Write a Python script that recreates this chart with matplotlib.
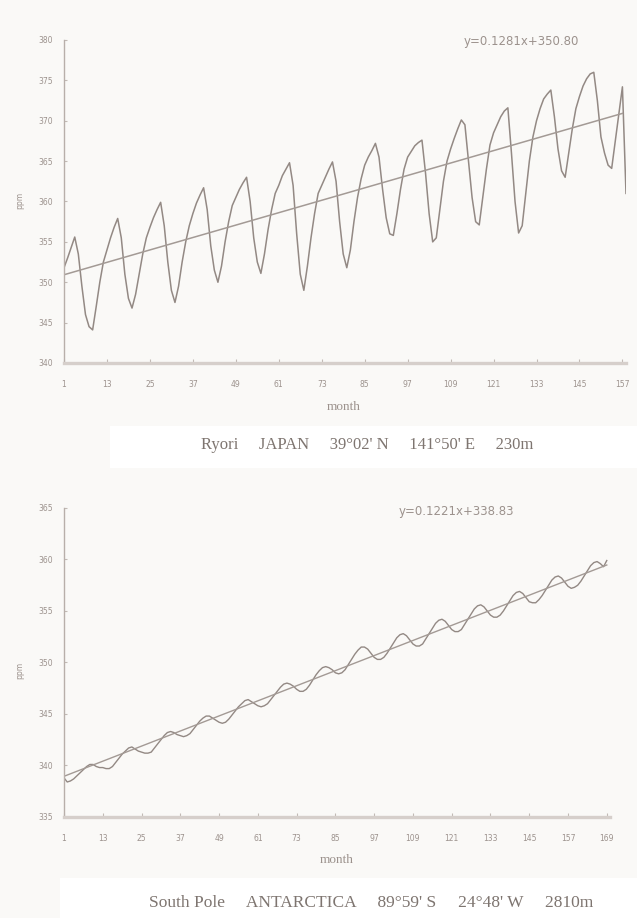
import numpy as np
import matplotlib
matplotlib.use("Agg")
import matplotlib.pyplot as plt
from matplotlib.patches import Rectangle

# ---------------- data ----------------
# Ryori, Japan: monthly CO2 (ppm), months 1..158
ryori_ppm = [
    351.8, 353.0, 354.3, 355.6, 353.5, 349.5, 346.0, 344.5, 344.1, 347.0, 350.0, 352.5,
    354.0, 355.5, 356.8, 357.9, 355.5, 351.0, 348.0, 346.8, 348.5, 351.0, 353.5, 355.5,
    356.8, 358.0, 359.0, 359.9, 357.0, 352.5, 349.0, 347.5, 349.5, 352.5, 355.0, 357.0,
    358.5, 359.8, 360.8, 361.7, 359.0, 354.5, 351.5, 350.0, 352.0, 355.0, 357.5, 359.5,
    360.5, 361.5, 362.3, 363.0, 360.0, 355.5, 352.5, 351.1, 353.5, 356.5, 359.0, 361.0,
    362.0, 363.2, 364.0, 364.8, 362.0, 356.0, 351.0, 349.0, 352.0, 355.5, 358.5, 361.0,
    362.0, 363.0, 364.0, 364.9, 362.5, 357.5, 353.5, 351.8, 354.0, 357.5, 360.5, 362.8,
    364.5, 365.5, 366.3, 367.2, 365.5, 361.5, 358.0, 356.0, 355.8, 358.5, 361.5, 364.0,
    365.5, 366.2, 366.9, 367.3, 367.6, 363.5, 358.5, 355.0, 355.5, 359.0, 362.5, 365.0,
    366.5, 367.8, 369.0, 370.1, 369.5, 365.0, 360.5, 357.5, 357.1, 360.5, 364.0, 367.0,
    368.5, 369.5, 370.5, 371.2, 371.6, 366.0, 360.0, 356.1, 357.0, 361.0, 365.0, 368.0,
    370.0, 371.5, 372.7, 373.3, 373.8, 370.5, 366.5, 363.8, 363.0, 366.0, 369.0, 371.5,
    373.0, 374.3, 375.2, 375.8, 376.0, 372.5, 368.0, 366.0, 364.5, 364.1, 367.5, 371.0,
    374.2, 361.0,
]
ryori_slope, ryori_intercept = 0.1281, 350.80
ryori_eq = "y=0.1281x+350.80"
ryori_xticks = [1, 13, 25, 37, 49, 61, 73, 85, 97, 109, 121, 133, 145, 157]
ryori_yticks = [340, 345, 350, 355, 360, 365, 370, 375, 380]
ryori_caption = "Ryori     JAPAN     39°02' N     141°50' E     230m"

# South Pole, Antarctica: monthly CO2 (ppm), months 1..169
spo_ppm = [
    338.8, 338.4, 338.5, 338.7, 339.0, 339.3, 339.6, 339.9, 340.1, 340.1, 339.9, 339.8,
    339.8, 339.7, 339.7, 339.9, 340.3, 340.7, 341.1, 341.4, 341.7, 341.8, 341.6, 341.4,
    341.3, 341.2, 341.2, 341.3, 341.7, 342.1, 342.5, 342.9, 343.2, 343.3, 343.2, 343.0,
    342.9, 342.8, 342.9, 343.1, 343.5, 343.9, 344.3, 344.6, 344.8, 344.8, 344.6, 344.4,
    344.2, 344.1, 344.2, 344.5, 344.9, 345.3, 345.7, 346.0, 346.3, 346.4, 346.2, 346.0,
    345.8, 345.7, 345.8, 346.0, 346.4, 346.8, 347.2, 347.6, 347.9, 348.0, 347.9, 347.7,
    347.4, 347.2, 347.2, 347.4, 347.8, 348.3, 348.8, 349.2, 349.5, 349.6, 349.5, 349.3,
    349.0, 348.9, 349.0, 349.3, 349.8, 350.3, 350.8, 351.2, 351.5, 351.5, 351.3, 350.9,
    350.5, 350.3, 350.3, 350.5, 350.9, 351.4, 351.9, 352.4, 352.7, 352.8, 352.6, 352.2,
    351.8, 351.6, 351.6, 351.8, 352.3, 352.8, 353.3, 353.8, 354.1, 354.2, 354.0, 353.6,
    353.2, 353.0, 353.0, 353.2, 353.7, 354.2, 354.7, 355.2, 355.5, 355.6, 355.4, 355.0,
    354.6, 354.4, 354.4, 354.6, 355.0, 355.5, 356.0, 356.5, 356.8, 356.9, 356.7, 356.3,
    355.9, 355.8, 355.8, 356.1, 356.5, 357.0, 357.5, 358.0, 358.3, 358.4, 358.2, 357.8,
    357.4, 357.2, 357.3, 357.5, 357.9, 358.4, 358.9, 359.4, 359.7, 359.8, 359.6, 359.3,
    359.9,
]
spo_slope, spo_intercept = 0.1221, 338.83
spo_eq = "y=0.1221x+338.83"
spo_xticks = [1, 13, 25, 37, 49, 61, 73, 85, 97, 109, 121, 133, 145, 157, 169]
spo_yticks = [335, 340, 345, 350, 355, 360, 365]
spo_caption = "South Pole     ANTARCTICA     89°59' S     24°48' W     2810m"

xlabel = "month"
ylabel = "ppm"

# ---------------- styling ----------------
W, H = 637, 918
paper = "#faf9f7"
line_c = "#938984"
trend_c = "#a39a95"
tick_c = "#9c928d"
text_c = "#7e7570"
serif = ["Liberation Serif", "DejaVu Serif"]

fig = plt.figure(figsize=(W / 100, H / 100), dpi=100, facecolor=paper)

# white paper strips behind captions (as in the scan)
fig.patches.append(Rectangle((110 / W, 1 - 468 / H), 1 - 110 / W, 42 / H,
                             transform=fig.transFigure, facecolor="white",
                             edgecolor="none", zorder=0))
fig.patches.append(Rectangle((60 / W, 0), 1 - 60 / W, 40 / H,
                             transform=fig.transFigure, facecolor="white",
                             edgecolor="none", zorder=0))


def px_axes(l, t, r, b):
    return fig.add_axes([l / W, 1 - b / H, (r - l) / W, (b - t) / H])


def style(ax, xticks, yticks, xmax, ymin, ymax):
    ax.set_facecolor("none")
    ax.set_xlim(1, xmax)
    ax.set_ylim(ymin, ymax)
    for s in ("top", "right"):
        ax.spines[s].set_visible(False)
    ax.spines["left"].set_color("#b8afaa")
    ax.spines["left"].set_linewidth(1.0)
    ax.spines["bottom"].set_color("#d6cfcb")
    ax.spines["bottom"].set_linewidth(2.4)
    ax.set_xticks(xticks)
    ax.set_xticklabels([str(v) for v in xticks])
    ax.set_yticks(yticks)
    ax.set_yticklabels([str(v) for v in yticks])
    ax.tick_params(axis="x", direction="in", length=3, width=0.8, color="#c2bab5",
                   labelsize=5.5, labelcolor=tick_c, pad=12)
    ax.tick_params(axis="y", direction="in", length=2.5, width=0.8, color="#c2bab5",
                   labelsize=5.5, labelcolor=tick_c, pad=8)
    for lab in ax.get_xticklabels() + ax.get_yticklabels():
        lab.set_family(["DejaVu Sans"])


# ---------------- upper chart: Ryori ----------------
ax1 = px_axes(64, 40, 626, 363)
m1 = np.arange(1, len(ryori_ppm) + 1)
ax1.plot(m1, ryori_ppm, color=line_c, lw=1.1)
tx1 = np.array([1, 157])
ax1.plot(tx1, ryori_slope * tx1 + ryori_intercept, color=trend_c, lw=1.1)
style(ax1, ryori_xticks, ryori_yticks, 158, 340, 380)

fig.text(521 / W, 1 - 42 / H, ryori_eq, ha="center", va="center",
         fontsize=8.5, color=tick_c, family=["DejaVu Sans"])
fig.text(344 / W, 1 - 407 / H, xlabel, ha="center", va="center",
         fontsize=9.5, color=tick_c, family=serif)
fig.text(20 / W, 1 - 200 / H, ylabel, ha="center", va="center", rotation=90,
         fontsize=5.5, color=tick_c, family=["DejaVu Sans"])
fig.text(367 / W, 1 - 445 / H, ryori_caption, ha="center", va="center",
         fontsize=12, color=text_c, family=serif)

# ---------------- lower chart: South Pole ----------------
ax2 = px_axes(64, 508, 610, 817)
m2 = np.arange(1, len(spo_ppm) + 1)
ax2.plot(m2, spo_ppm, color=line_c, lw=1.0)
tx2 = np.array([1, 169])
ax2.plot(tx2, spo_slope * tx2 + spo_intercept, color=trend_c, lw=1.0)
style(ax2, spo_xticks, spo_yticks, 170, 335, 365)

fig.text(456 / W, 1 - 512 / H, spo_eq, ha="center", va="center",
         fontsize=8.5, color=tick_c, family=["DejaVu Sans"])
fig.text(337 / W, 1 - 860 / H, xlabel, ha="center", va="center",
         fontsize=9.5, color=tick_c, family=serif)
fig.text(20 / W, 1 - 670 / H, ylabel, ha="center", va="center", rotation=90,
         fontsize=5.5, color=tick_c, family=["DejaVu Sans"])
fig.text(371 / W, 1 - 903 / H, spo_caption, ha="center", va="center",
         fontsize=12.5, color=text_c, family=serif)

fig.savefig("out.png", dpi=100, facecolor=paper)
